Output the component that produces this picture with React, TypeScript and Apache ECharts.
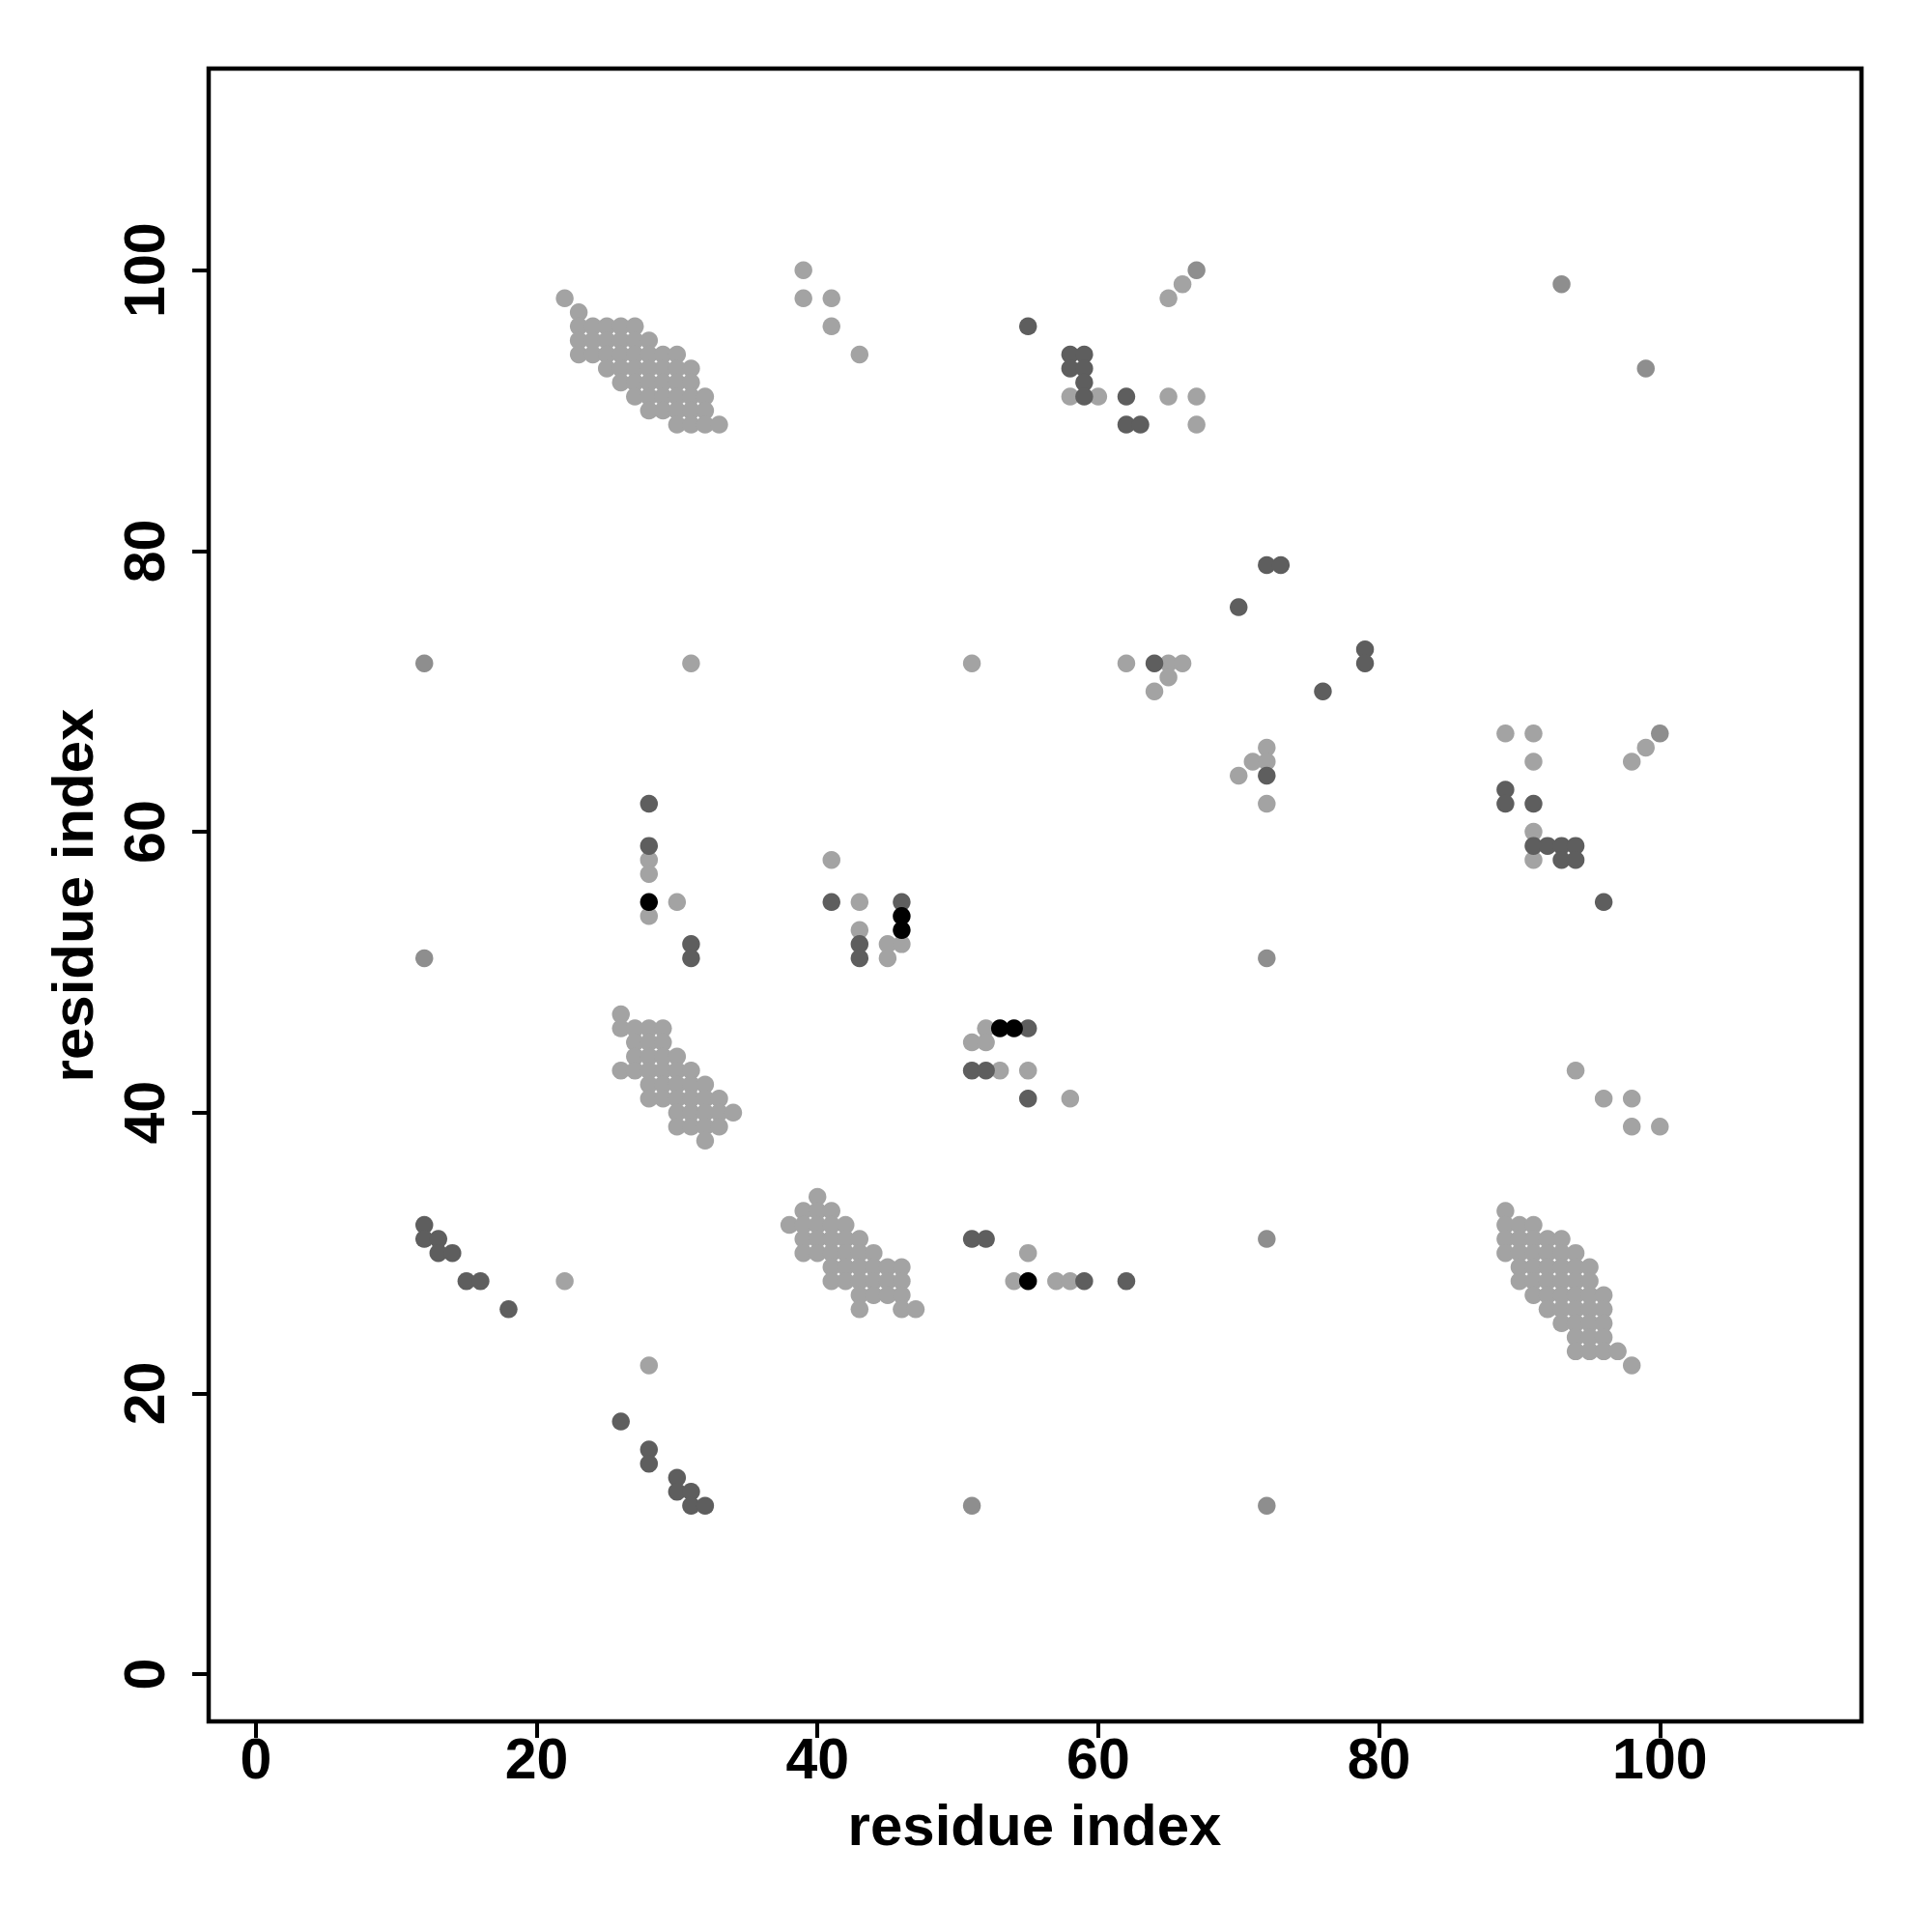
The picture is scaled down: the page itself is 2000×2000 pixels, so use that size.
import React, { useEffect, useRef } from "react";
import * as echarts from "echarts";

// tick values for both axes
const tickValues = [0, 20, 40, 60, 80, 100];
const axisTitle = "residue index";

// light grey contacts [x, y]
const lightPoints: number[][] = [
  [22, 98], [23, 97],
  [23, 96], [24, 96], [25, 96], [26, 96], [27, 96],
  [23, 95], [24, 95], [25, 95], [26, 95], [27, 95], [28, 95],
  [23, 94], [24, 94], [25, 94], [26, 94], [27, 94], [28, 94], [29, 94], [30, 94],
  [25, 93], [26, 93], [27, 93], [28, 93], [29, 93], [30, 93], [31, 93],
  [26, 92], [27, 92], [28, 92], [29, 92], [30, 92], [31, 92],
  [27, 91], [28, 91], [29, 91], [30, 91], [31, 91], [32, 91],
  [28, 90], [29, 90], [30, 90], [31, 90], [32, 90],
  [30, 89], [31, 89], [32, 89], [33, 89],
  [39, 100], [39, 98], [41, 98], [41, 96], [43, 94],
  [58, 91], [60, 91], [65, 91], [67, 91], [67, 89], [65, 98], [66, 99],
  [31, 72], [51, 72], [62, 72], [65, 72], [66, 72], [65, 71], [64, 70],
  [72, 66], [71, 65], [72, 65], [70, 64], [72, 62],
  [89, 67], [91, 67], [91, 65], [91, 60], [91, 58], [98, 65], [99, 66],
  [28, 58], [28, 57], [30, 55], [28, 54], [41, 58], [43, 55], [43, 53],
  [45, 52], [45, 51], [46, 52],
  [26, 47],
  [26, 46], [27, 46], [28, 46], [29, 46],
  [27, 45], [28, 45], [29, 45],
  [27, 44], [28, 44], [29, 44], [30, 44],
  [26, 43], [27, 43], [28, 43], [29, 43], [30, 43], [31, 43],
  [28, 42], [29, 42], [30, 42], [31, 42], [32, 42],
  [28, 41], [29, 41], [30, 41], [31, 41], [32, 41], [33, 41],
  [30, 40], [31, 40], [32, 40], [33, 40], [34, 40],
  [30, 39], [31, 39], [32, 39], [33, 39],
  [32, 38],
  [52, 46], [51, 45], [52, 45], [53, 43], [55, 43], [58, 41],
  [94, 43], [96, 41], [98, 41], [98, 39], [100, 39],
  [40, 34],
  [39, 33], [40, 33], [41, 33],
  [38, 32], [39, 32], [40, 32], [41, 32], [42, 32],
  [39, 31], [40, 31], [41, 31], [42, 31], [43, 31],
  [39, 30], [40, 30], [41, 30], [42, 30], [43, 30], [44, 30],
  [41, 29], [42, 29], [43, 29], [44, 29], [45, 29], [46, 29],
  [41, 28], [42, 28], [43, 28], [44, 28], [45, 28], [46, 28],
  [43, 27], [44, 27], [45, 27], [46, 27],
  [43, 26], [46, 26], [47, 26],
  [89, 33],
  [89, 32], [90, 32], [91, 32],
  [89, 31], [90, 31], [91, 31], [92, 31], [93, 31],
  [89, 30], [90, 30], [91, 30], [92, 30], [93, 30], [94, 30],
  [90, 29], [91, 29], [92, 29], [93, 29], [94, 29], [95, 29],
  [90, 28], [91, 28], [92, 28], [93, 28], [94, 28], [95, 28],
  [91, 27], [92, 27], [93, 27], [94, 27], [95, 27], [96, 27],
  [92, 26], [93, 26], [94, 26], [95, 26], [96, 26],
  [93, 25], [94, 25], [95, 25], [96, 25],
  [94, 24], [95, 24], [96, 24],
  [94, 23], [95, 23], [96, 23], [97, 23],
  [98, 22],
  [22, 28], [28, 22], [55, 30], [54, 28], [57, 28], [58, 28],
];

// medium grey contacts
const mediumPoints: number[][] = [
  [12, 72], [12, 51], [72, 51], [72, 31], [72, 12], [51, 12],
  [93, 99], [99, 93], [67, 100], [100, 67],
];

// dark grey contacts
const darkPoints: number[][] = [
  [55, 96], [58, 94], [59, 94], [58, 93], [59, 93], [59, 92], [59, 91],
  [62, 91], [62, 89], [63, 89],
  [72, 79], [73, 79], [70, 76], [64, 72], [79, 73], [79, 72], [76, 70], [72, 64],
  [89, 63], [89, 62], [91, 62], [91, 59], [92, 59], [93, 59], [94, 59],
  [93, 58], [94, 58], [96, 55],
  [28, 62], [28, 59], [31, 52], [31, 51], [41, 55], [46, 55], [43, 52], [43, 51],
  [55, 46], [51, 43], [52, 43], [55, 41],
  [12, 32], [12, 31], [13, 31], [13, 30], [14, 30], [15, 28], [16, 28], [18, 26],
  [51, 31], [52, 31], [59, 28], [62, 28],
  [26, 18], [28, 16], [28, 15], [30, 14], [30, 13], [31, 13], [31, 12], [32, 12],
];

// black contacts
const blackPoints: number[][] = [
  [28, 55], [46, 54], [46, 53], [53, 46], [54, 46], [55, 28],
];

const FONT = "'Liberation Sans', Arial, Helvetica, sans-serif";

export default function App() {
  const ref = useRef<HTMLDivElement>(null);
  useEffect(() => {
    const chart = echarts.init(ref.current!, null, { renderer: "svg" });
    const axisCommon = {
      type: "value",
      min: -3.36,
      max: 114.36,
      splitLine: { show: false },
      axisLine: { show: false, onZero: false },
      axisTick: {
        show: true,
        length: 17,
        lineStyle: { color: "#000", width: 4 },
        customValues: tickValues,
      },
      axisLabel: {
        customValues: tickValues,
        fontSize: 59,
        fontWeight: "bold",
        fontFamily: FONT,
        color: "#000",
      },
    };
    const mk = (data: number[][], color: string) => ({
      type: "scatter",
      data,
      symbol: "circle",
      symbolSize: 18.5,
      itemStyle: { color, opacity: 1 },
      silent: true,
    });
    chart.setOption({
      animation: false,
      backgroundColor: "#ffffff",
      grid: {
        left: 216,
        right: 73,
        top: 71,
        bottom: 218,
        show: true,
        borderColor: "#000",
        borderWidth: 4.5,
        backgroundColor: "transparent",
      },
      xAxis: {
        ...axisCommon,
        axisLabel: { ...axisCommon.axisLabel, margin: 9 },
      },
      yAxis: {
        ...axisCommon,
        axisLabel: { ...axisCommon.axisLabel, margin: 37, rotate: 90 },
      },
      graphic: [
        {
          type: "text",
          x: 1071,
          y: 1889,
          style: {
            text: axisTitle,
            fontSize: 60,
            fontWeight: "bold",
            fontFamily: FONT,
            fill: "#000",
            textAlign: "center",
            textVerticalAlign: "middle",
          },
        },
        {
          type: "text",
          x: 75,
          y: 927,
          rotation: Math.PI / 2,
          style: {
            text: axisTitle,
            fontSize: 60,
            fontWeight: "bold",
            fontFamily: FONT,
            fill: "#000",
            textAlign: "center",
            textVerticalAlign: "middle",
          },
        },
      ],
      series: [
        mk(lightPoints, "#a3a3a3"),
        mk(mediumPoints, "#8e8e8e"),
        mk(darkPoints, "#5e5e5e"),
        mk(blackPoints, "#000000"),
      ],
    });
    return () => chart.dispose();
  }, []);
  return (
    <div
      ref={ref}
      style={{ position: "absolute", left: 0, top: 0, width: 2000, height: 2000 }}
    />
  );
}
